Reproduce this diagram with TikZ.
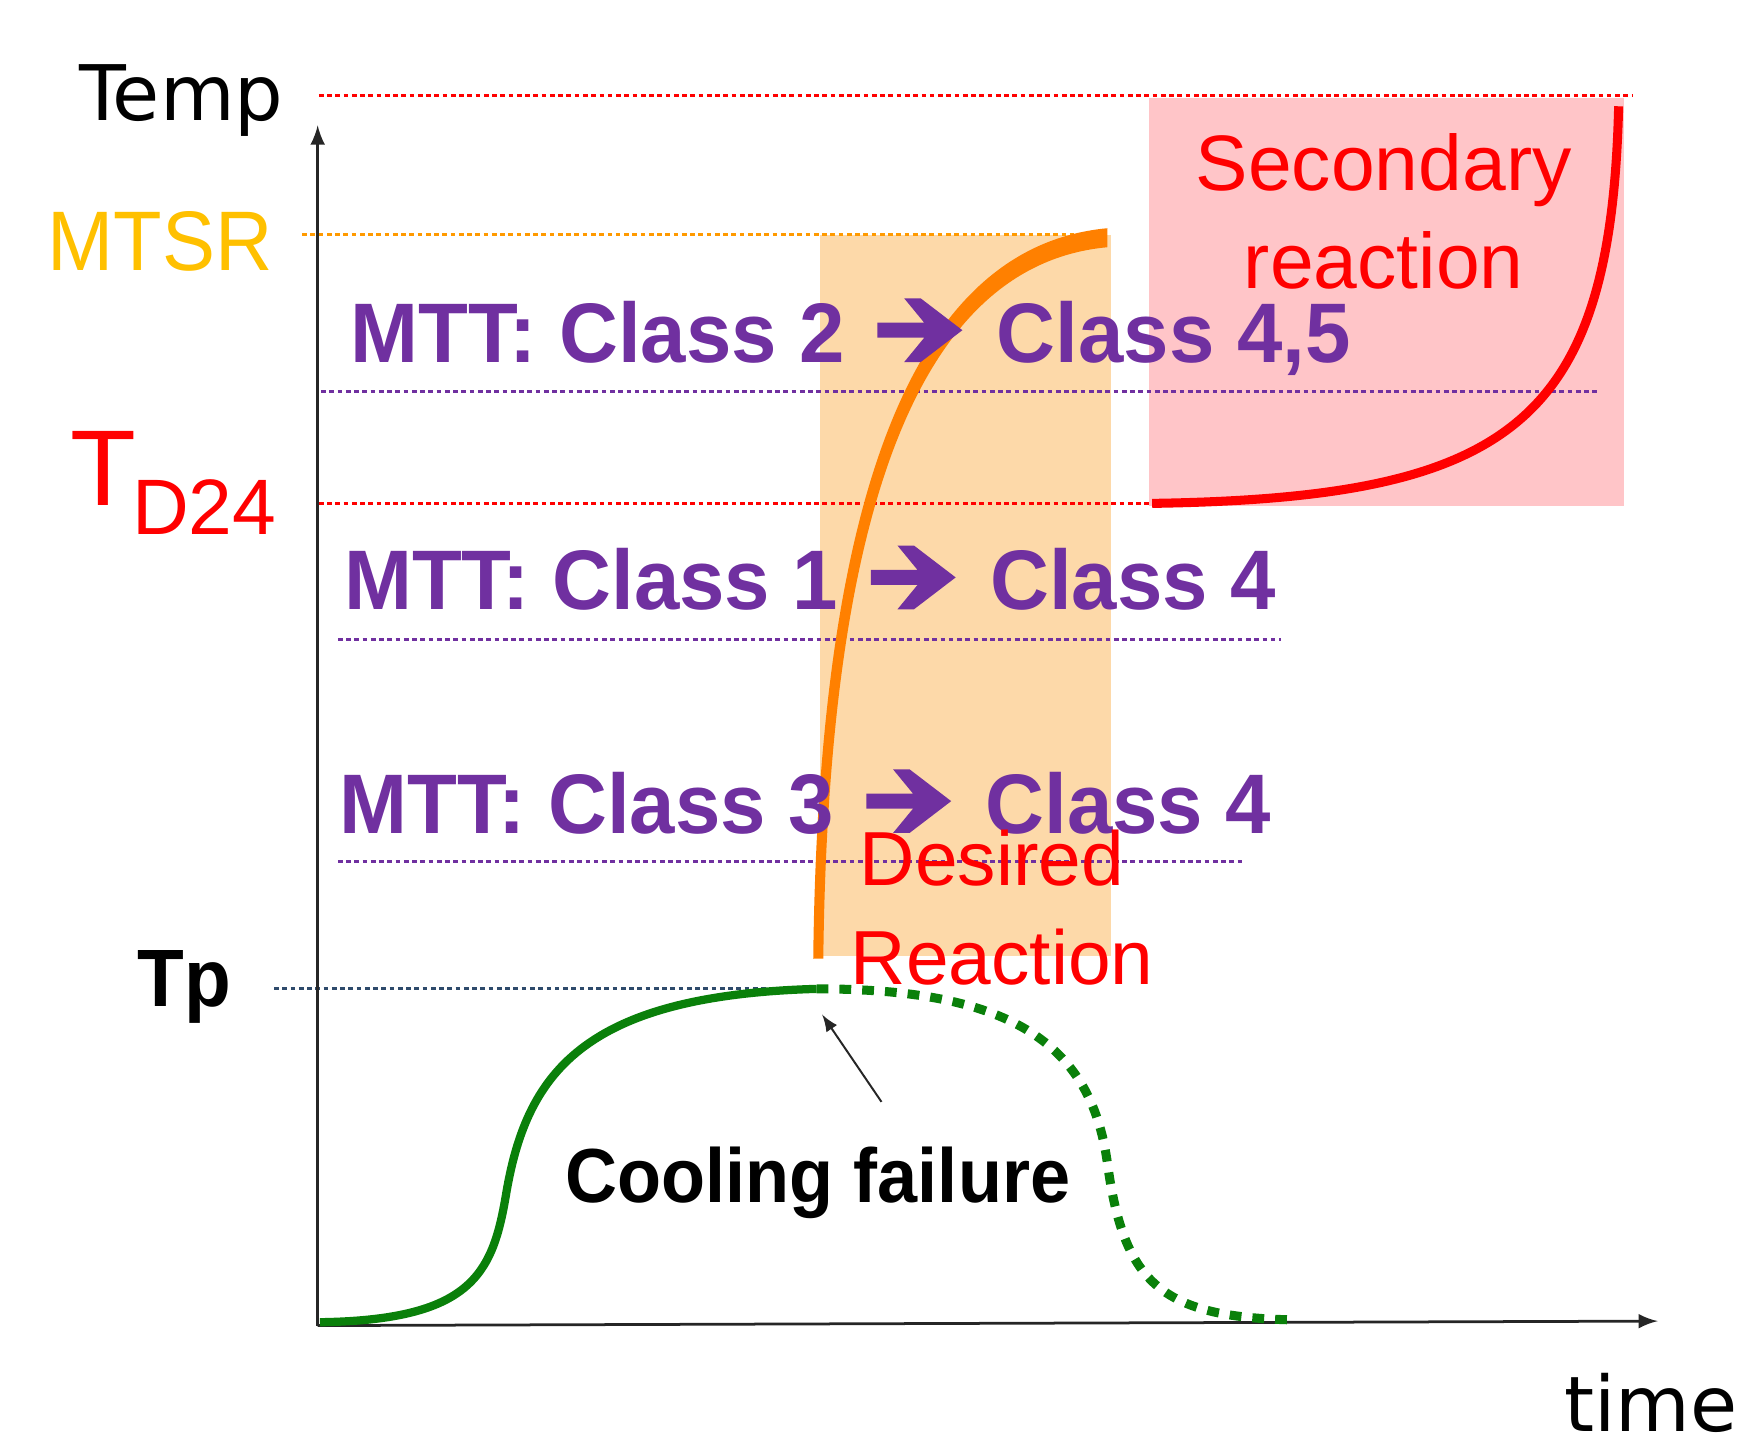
\documentclass[tikz,border=0pt]{standalone}
\usepackage{fontspec}
\setmainfont{Liberation Sans}
\newfontfamily\mttfont{Liberation Sans}[FakeStretch=0.965]
\newfontfamily\coolfont{Liberation Sans}[FakeStretch=0.94]
\newfontfamily\axisfont{DejaVu Sans}
\definecolor{mttpurple}{HTML}{7030A0}
\definecolor{mtsrgold}{HTML}{FFC000}
\definecolor{guideorange}{HTML}{FF9A00}
\definecolor{curveorange}{HTML}{FF8000}
\definecolor{desiredfill}{HTML}{FDD9A9}
\definecolor{secondfill}{HTML}{FFC5C8}
\definecolor{tpblue}{HTML}{2E4A6B}
\definecolor{coolgreen}{HTML}{0A800A}
% dicker Pfeil zwischen den Klassen
\newcommand{\classarrow}{\hspace{2.5pt}\tikz[x=1pt,y=1pt,baseline=0pt]
  \fill[mttpurple] (0,6.3) -- (11.9,6.3) -- (6.8,0.1) -- (11,0.1) -- (21.6,8.2)
  -- (11,16.3) -- (6.8,16.3) -- (11.9,10.1) -- (0,10.1) -- cycle;\hspace{3pt}}
\tikzset{
  Guide/.style={line width=0.8pt,dash pattern=on 1.2pt off 0.9pt,draw=#1}, % gepunktete Hilfslinien
  Curve/.style={line width=#1,line cap=butt}, % Verlaeufe
  Label/.style={anchor=base west,inner sep=0pt},
  MTT/.style={Label,text=mttpurple,font={\mttfont\bfseries\fontsize{21.5}{24}\selectfont}}
}
\begin{document}
\begin{tikzpicture}[x=0.1mm,y=-0.1mm,
>=latex % Pfeilspitzen
]
\useasboundingbox (0,0) rectangle (1568,1300);

%Flaechen
\fill[desiredfill] (733,210) rectangle (993,855);
\fill[secondfill] (1027,88) rectangle (1452,452);

%Hilfslinien
\foreach \ya/\xa/\xb/\col in {85/285/1460/red, 210/270/960/guideorange,
  350/287/1430/mttpurple, 450/285/1030/red, 572/302/1145/mttpurple,
  770/302/1112/mttpurple, 884/245/730/tpblue}
  \draw[Guide=\col] (\xa,\ya) -- (\xb,\ya);

%Achsen
\coordinate (O) at (284,1185);
\coordinate (Ytop) at (284,112);
\coordinate (Xend) at (1482,1181);
\draw[black!85,line width=0.7pt,->] (O) -- (Ytop);
\draw[black!85,line width=0.7pt,->] (O) -- (Xend);

%Kurven
\coordinate (start) at (286,1182);
\coordinate (fail) at (730,884);
\coordinate (stop) at (1160,1180);
\draw[coolgreen,Curve=2.1pt] (start) .. controls (420,1180) and (440,1140) .. (452,1070)
  .. controls (470,960) and (520,890) .. (fail);
\draw[coolgreen,Curve=2.3pt,dash pattern=on 3pt off 2.8pt] (fail)
  .. controls (900,884) and (975,930) .. (990,1040)
  .. controls (1005,1150) and (1040,1178) .. (stop);
\fill[curveorange] (727,857) .. controls (731,500) and (795,222) .. (990,204)
  -- (990,221) .. controls (805,238) and (740,500) .. (736,857) -- cycle;
\coordinate (redStart) at (1030,450);
\coordinate (redTop) at (1447,95);
\draw[red,Curve=2.3pt] (redStart) .. controls (1350,445) and (1440,380) .. (redTop);

%Beschriftungen
\node[Label,font={\axisfont\fontsize{19.5}{22}\selectfont}] (temp) at (70,108) {Temp};
\node[Label,text=mtsrgold,font={\coolfont\fontsize{21.5}{24}\selectfont}] (mtsr) at (42,242) {MTSR};
\node[Label,text=red] (td24) at (62,452)
  {\fontsize{27.4}{30}\selectfont T\hspace{-1pt}\raisebox{-7.4pt}{\fontsize{20}{24}\selectfont D24}};
\node[Label,font={\coolfont\bfseries\fontsize{20.7}{24}\selectfont}] (tp) at (122,900) {Tp};
\node[Label,font={\axisfont\fontsize{19.5}{22}\selectfont}] (time) at (1398,1280) {time};

\node[MTT] (mtt2) at (313,324) {MTT: Class 2 \classarrow{} Class 4,5};
\node[MTT] (mtt1) at (307,545) {MTT: Class 1 \classarrow{} Class 4};
\node[MTT] (mtt3) at (303,745) {MTT: Class 3 \classarrow{} Class 4};

\node[anchor=base,inner sep=0pt,text=red,font={\fontsize{20}{24}\selectfont}] (sec1) at (1237,170) {Secondary};
\node[anchor=base,inner sep=0pt,text=red,font={\fontsize{20}{24}\selectfont}] (sec2) at (1237,258) {reaction};
\node[Label,text=red,font={\fontsize{19.5}{22}\selectfont}] (des1) at (768,792) {Desired};
\node[Label,text=red,font={\fontsize{19.5}{22}\selectfont}] (des2) at (760,880) {Reaction};

\node[Label,font={\coolfont\bfseries\fontsize{19.5}{22}\selectfont}] (cool) at (505,1075) {Cooling failure};
\coordinate (coolPtr) at (788,985);
\coordinate (failTip) at (735,907);
\draw[black!85,line width=0.5pt,->] (coolPtr) -- (failTip);
\end{tikzpicture}
\end{document}
